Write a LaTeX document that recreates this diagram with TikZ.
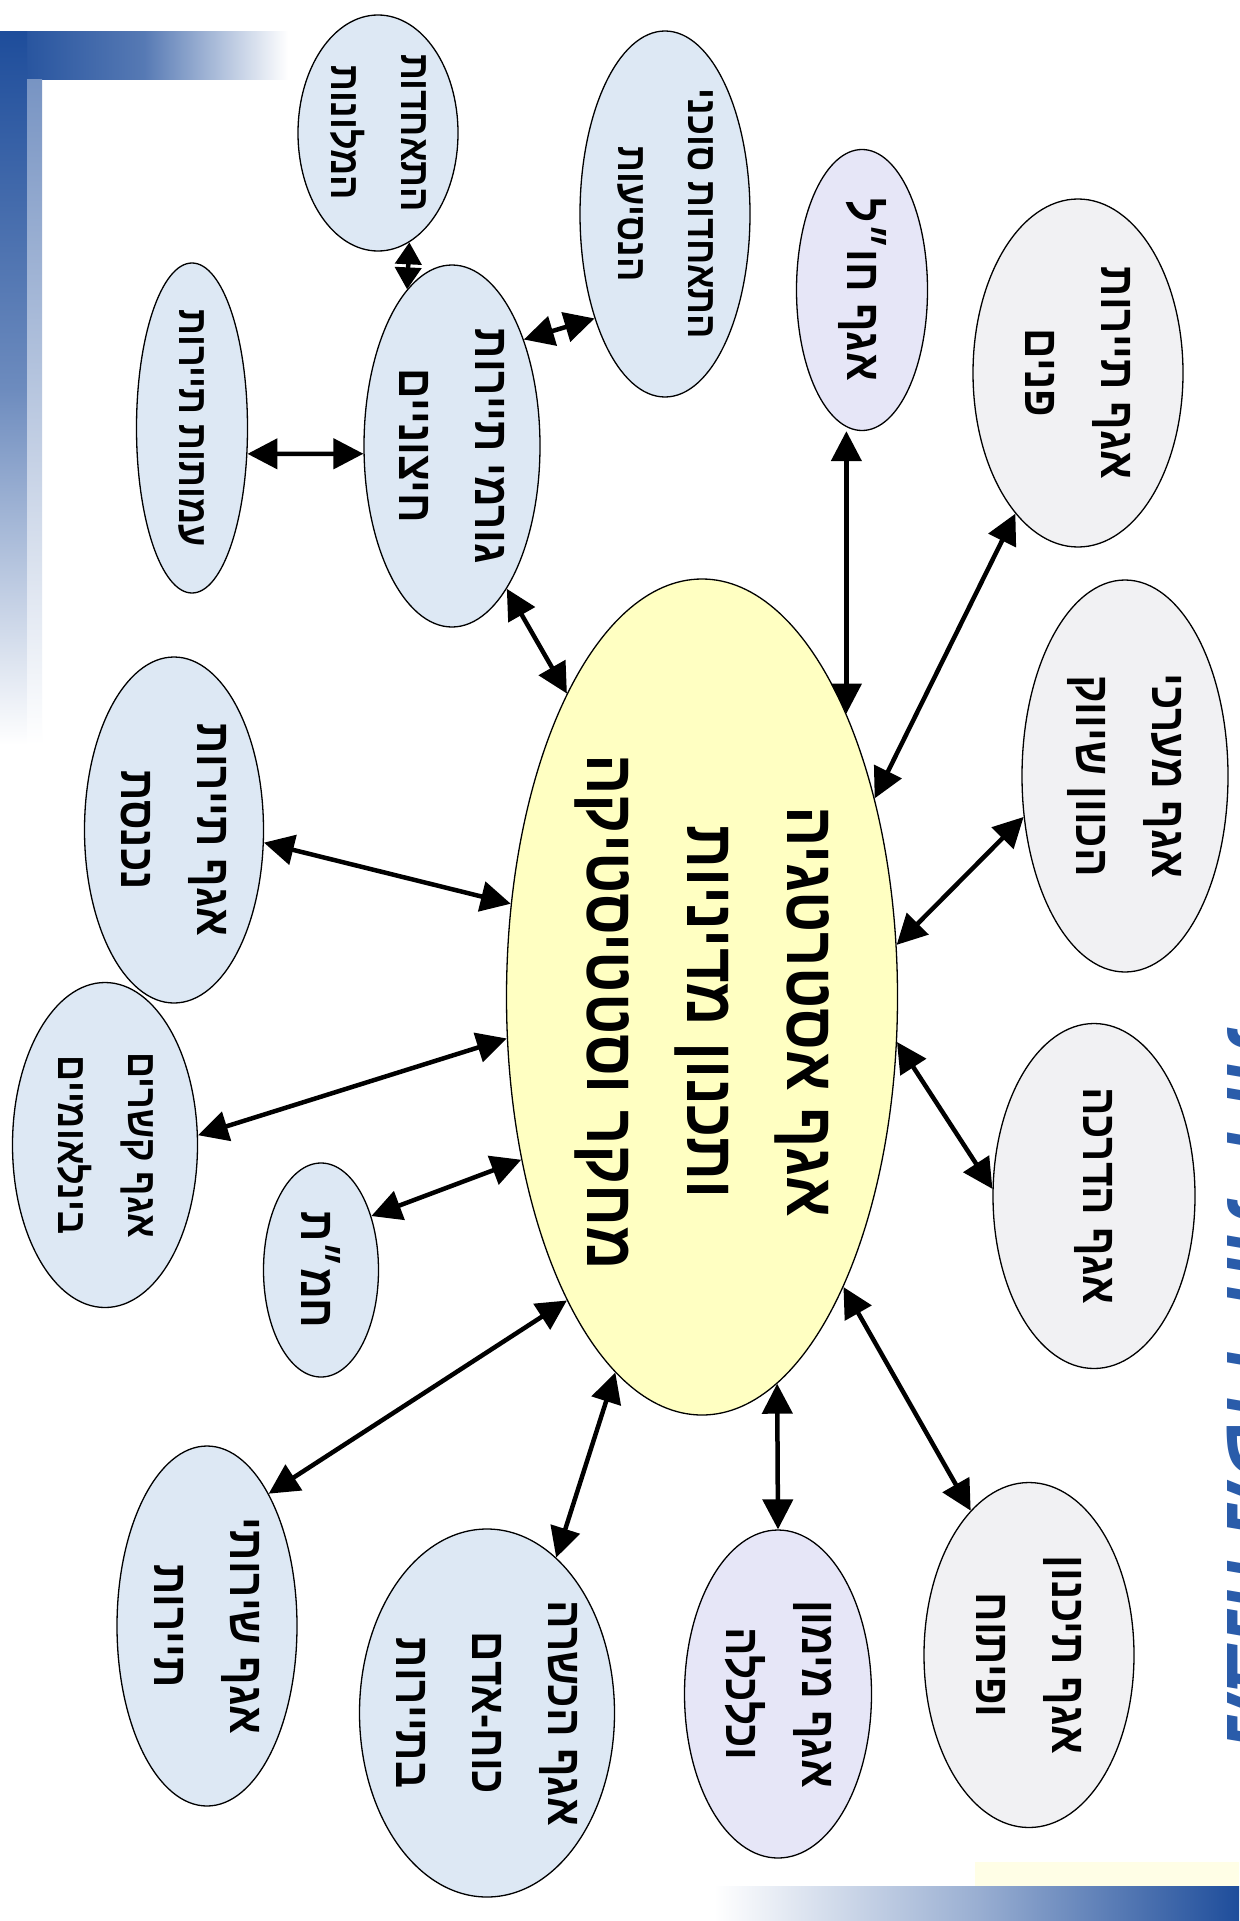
\documentclass[tikz,border=0pt]{standalone}
\usepackage{fontspec}
\setmainfont{Liberation Sans}
\newfontfamily\hebfont[Script=Hebrew, FakeStretch=0.88]{Liberation Sans}
\TeXXeTstate=1
\usetikzlibrary{arrows.meta,shapes.geometric}
\newcommand{\heb}[1]{\beginR #1\endR}
\definecolor{cfill}{HTML}{FFFFC2}
\definecolor{bfill}{HTML}{DDE8F4}
\definecolor{lfill}{HTML}{E6E6F7}
\definecolor{gfill}{HTML}{F1F1F3}
\definecolor{barblue}{HTML}{1E4D9B}
\definecolor{titleblue}{HTML}{2A5CAA}
\tikzset{
  bub/.style={ellipse, draw=black, line width=1.3pt, inner sep=0pt},
  lbl/.style={rotate=-90, align=center, inner sep=0pt,
    font=\hebfont\bfseries\fontsize{48}{76}\selectfont},
  slbl/.style={rotate=-90, align=center, inner sep=0pt,
    font=\hebfont\bfseries\fontsize{41}{70}\selectfont},
  clbl/.style={rotate=-90, align=center, inner sep=0pt,
    font=\hebfont\bfseries\fontsize{68}{100}\selectfont},
  dbl/.style={{Triangle[length=30pt,width=30pt]}-{Triangle[length=30pt,width=30pt]}, line width=4.5pt},
  sdbl/.style={{Triangle[length=22pt,width=26pt]}-{Triangle[length=22pt,width=26pt]}, line width=4.5pt},
}
\begin{document}
\begin{tikzpicture}[x=1pt,y=-1pt]
\useasboundingbox (0,0) rectangle (1239,1921);
\fill[white] (0,0) rectangle (1239,1921);
% slide decorations
\shade[left color=barblue, right color=white, middle color=barblue!75] (0,32) rectangle (288,80);
\shade[top color=barblue, bottom color=white, middle color=barblue!65] (0,32) rectangle (27,745);
\shade[top color=barblue!60, bottom color=white] (27,80) rectangle (42,745);
\fill[yellow!10] (975,1862) rectangle (1239,1886);
\shade[left color=white, right color=barblue, middle color=barblue!45] (714,1886) rectangle (1239,1921);
\begin{scope}
\clip (0,0) rectangle (1239,1921);
\node[rotate=-90, anchor=base, inner sep=0pt, text=titleblue,
  font=\hebfont\bfseries\itshape\fontsize{88}{100}\selectfont] (title) at (1227,1390)
  {\heb{מבנה משרד התיירות}};
\end{scope}
% ellipses
\node[bub, fill=cfill, minimum width=391pt, minimum height=836pt] (c) at (702,997) {};
\node[bub, fill=bfill, minimum width=111pt, minimum height=330pt] (n2) at (192,428) {};
\node[bub, fill=bfill, minimum width=176pt, minimum height=362pt] (n3) at (452,446) {};
\node[bub, fill=bfill, minimum width=160pt, minimum height=236pt] (n4) at (378,133) {};
\node[bub, fill=bfill, minimum width=170pt, minimum height=366pt] (n5) at (665,214) {};
\node[bub, fill=lfill, minimum width=131pt, minimum height=281pt] (n6) at (862,290) {};
\node[bub, fill=gfill, minimum width=210pt, minimum height=348pt] (n7) at (1078,373) {};
\node[bub, fill=gfill, minimum width=206pt, minimum height=392pt] (n8) at (1125,776) {};
\node[bub, fill=gfill, minimum width=202pt, minimum height=345pt] (n9) at (1094,1196) {};
\node[bub, fill=gfill, minimum width=210pt, minimum height=345pt] (n10) at (1029,1655) {};
\node[bub, fill=lfill, minimum width=187pt, minimum height=328pt] (n11) at (778,1694) {};
\node[bub, fill=bfill, minimum width=255pt, minimum height=368pt] (n12) at (487,1713) {};
\node[bub, fill=bfill, minimum width=180pt, minimum height=360pt] (n13) at (207,1626) {};
\node[bub, fill=bfill, minimum width=115pt, minimum height=214pt] (n14) at (321,1270) {};
\node[bub, fill=bfill, minimum width=185pt, minimum height=325pt] (n15) at (105,1145) {};
\node[bub, fill=bfill, minimum width=179pt, minimum height=346pt] (n16) at (174,830) {};
% labels
\node[clbl] (ct) at (702,1012) {\heb{אגף אסטרטגיה}\\\heb{ותכנון מדיניות}\\\heb{מחקר וסטטיסטיקה}};
\node[slbl] (t2) at (n2) {\heb{עמותות תיירות}};
\node[lbl] (t3) at (n3) {\heb{גורמי תיירות}\\\heb{חיצוניים}};
\node[slbl] (t4) at (n4) {\heb{התאחדות}\\\heb{המלונות}};
\node[slbl] (t5) at (n5) {\heb{התאחדות סוכני}\\\heb{הנסיעות}};
\node[lbl] (t6) at (n6) {\heb{אגף חו״ל}};
\node[lbl] (t7) at (n7) {\heb{אגף תיירות}\\\heb{פנים}};
\node[lbl] (t8) at (n8) {\heb{אגף מערכי}\\\heb{הכוון שיווק}};
\node[lbl] (t9) at (n9) {\heb{אגף הדרכה}};
\node[lbl] (t10) at (n10) {\heb{אגף תיכנון}\\\heb{ופיתוח}};
\node[lbl] (t11) at (n11) {\heb{אגף מימון}\\\heb{וכלכלה}};
\node[lbl] (t12) at (n12) {\heb{אגף הכשרה}\\\heb{כוח-אדם}\\\heb{בתיירות}};
\node[lbl] (t13) at (n13) {\heb{אגף שירותי}\\\heb{תיירות}};
\node[lbl] (t14) at (n14) {\heb{חמ״ת}};
\node[slbl] (t15) at (n15) {\heb{אגף קשרים}\\\heb{בינלאומיים}};
\node[lbl] (t16) at (n16) {\heb{אגף תיירות}\\\heb{נכנסת}};
% connectors
\draw[dbl] (c.114) -- (n3.-69);
\draw[dbl] (n3.185) -- (n2.-25);
\draw[sdbl] (n3.106) -- (n4.-74);
\draw[dbl] (n3.56) -- (n5.236);
\draw[dbl] (c.63) -- (n6.south -| c.63);
\draw[dbl] (c.49) -- (n7.246);
\draw[dbl] (c.15) -- (n8.202);
\draw[dbl] (c.-13) -- (n9.176);
\draw[dbl] (c.-64) -- (n10.112);
\draw[dbl] (c.-79) -- (n11.north);
\draw[dbl] (c.257) -- (n12.66);
\draw[dbl] (c.246) -- (n13.65);
\draw[dbl] (c.222) -- (n14.47);
\draw[dbl] (c.192) -- (n15.6);
\draw[dbl] (c.154) -- (n16.-8);
\end{tikzpicture}
\end{document}
